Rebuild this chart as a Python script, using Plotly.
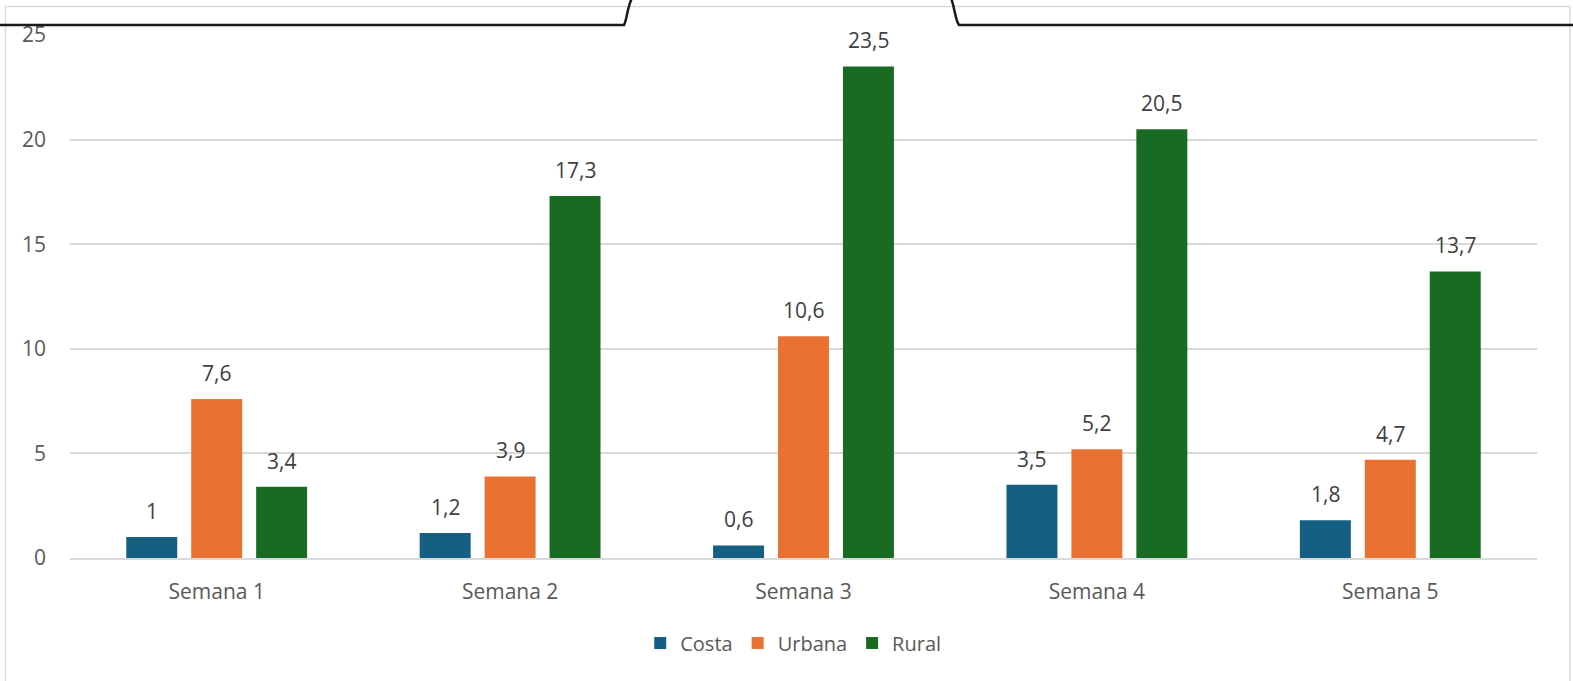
import plotly.graph_objects as go

categories = ["Semana 1", "Semana 2", "Semana 3", "Semana 4", "Semana 5"]
series_names = ["Costa", "Urbana", "Rural"]
costa = [1, 1.2, 0.6, 3.5, 1.8]
urbana = [7.6, 3.9, 10.6, 5.2, 4.7]
rural = [3.4, 17.3, 23.5, 20.5, 13.7]
colors = ["#156082", "#E97132", "#196B24"]
y_ticks = [0, 5, 10, 15, 20, 25]

W, H = 1573, 681
L, R, T, B = 70, 1537, 35, 558

def px(x):
    return (x - L) / (R - L)

def py(y):
    return (B - y) / (B - T)

def fmt(v):
    s = ("%g" % v)
    return s.replace(".", ",")

fig = go.Figure()
all_vals = [costa, urbana, rural]
for name, vals, c in zip(series_names, all_vals, colors):
    fig.add_trace(go.Bar(x=categories, y=vals, name=name, marker=dict(color=c, line=dict(width=0))))

# data labels
slot = 65
for i, vals in enumerate(all_vals):
    for cat, v in zip(categories, vals):
        fig.add_annotation(x=cat, y=v, text=fmt(v), showarrow=False,
                           xshift=(i - 1) * slot, yshift=26,
                           font=dict(family="Open Sans", size=21, color="#404040"))

shapes = []
# chart border
shapes.append(dict(type="rect", xref="paper", yref="paper",
                   x0=px(5.5), x1=px(1570), y0=py(700), y1=py(6.5),
                   line=dict(color="#D9D9D9", width=1.5), layer="below"))
# torn black edge at top
path = (f"M {px(-5)},{py(25)} L {px(624)},{py(25)} "
        f"C {px(627)},{py(20)} {px(627)},{py(8)} {px(632)},{py(-2)} "
        f"M {px(951)},{py(-2)} C {px(955)},{py(8)} {px(955)},{py(20)} {px(959)},{py(25)} "
        f"L {px(1580)},{py(25)}")
shapes.append(dict(type="path", xref="paper", yref="paper", path=path,
                   line=dict(color="#1a1a1a", width=2.5)))

fig.update_layout(
    width=W, height=H,
    margin=dict(l=L, r=W - R, t=T, b=H - B, autoexpand=False),
    paper_bgcolor="white", plot_bgcolor="white",
    barmode="group", bargap=0.336, bargroupgap=0.215,
    separators=",.",
    font=dict(family="Open Sans", color="#595959"),
    showlegend=True,
    legend=dict(orientation="h", x=0.493, xanchor="center", y=py(643), yanchor="middle",
                font=dict(size=20, color="#595959"), itemwidth=30, traceorder="normal"),
    shapes=shapes,
    xaxis=dict(showgrid=False, showline=True, linecolor="#D9D9D9", linewidth=1.5,
               ticks="", tickfont=dict(size=21, color="#595959"), ticklabelstandoff=14),
    yaxis=dict(range=[0, 25], tickvals=y_ticks, showgrid=True, gridcolor="#D9D9D9",
               gridwidth=1.5, zeroline=False, showline=False,
               tickfont=dict(size=21, color="#595959"), ticklabelstandoff=23),
)

fig.write_html("out.html", config={"displayModeBar": False},
               post_script="document.body.style.margin='0';document.body.style.overflow='hidden';")
